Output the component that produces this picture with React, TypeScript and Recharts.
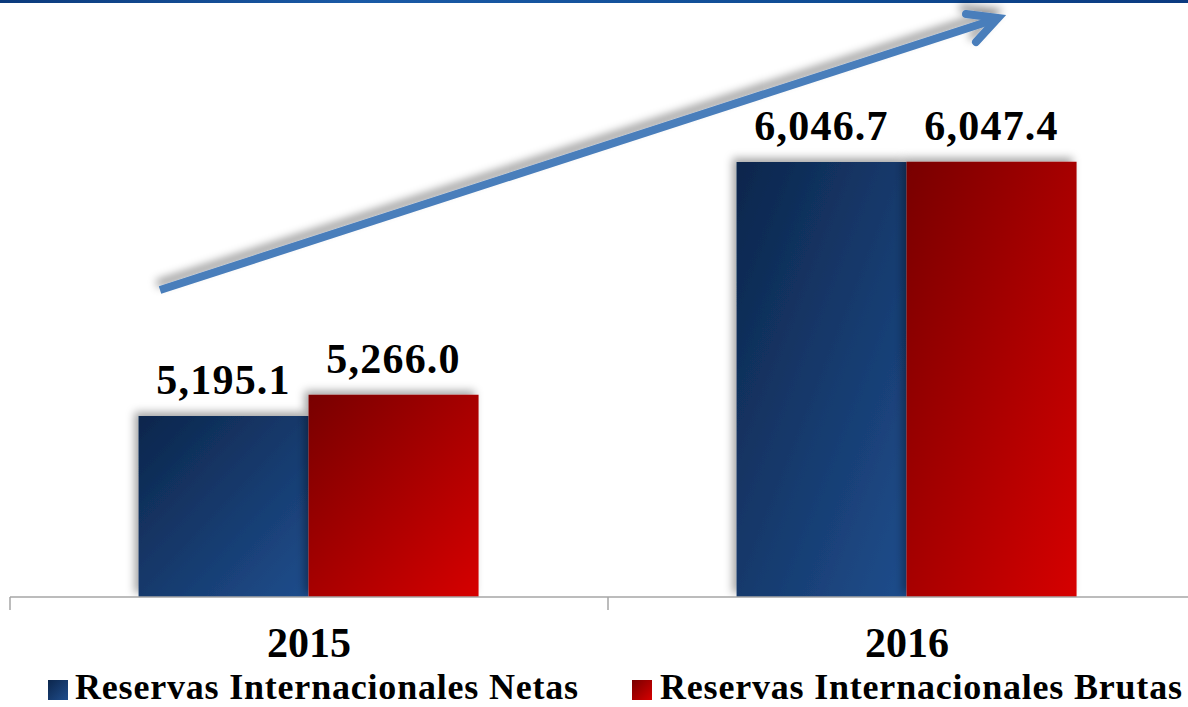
import { BarChart, Bar, XAxis, YAxis, LabelList, Customized } from 'recharts';

const years = ['2015', '2016'];
const netas = [5195.1, 6046.7];
const brutas = [5266.0, 6047.4];
const seriesNames = ['Reservas Internacionales Netas', 'Reservas Internacionales Brutas'];

const data = years.map((year, i) => ({ year, netas: netas[i], brutas: brutas[i] }));

const serif = 'Liberation Serif, Times New Roman, serif';

const fmt = (v: any) =>
  Number(v).toLocaleString('en-US', { minimumFractionDigits: 1, maximumFractionDigits: 1 });

function ValueLabel(props: any) {
  const { x, y, width, value } = props;
  return (
    <text
      x={x + width / 2}
      y={y - 22}
      textAnchor="middle"
      fontFamily={serif}
      fontWeight="bold"
      fontSize={42}
      fill="#000"
      style={{ letterSpacing: 1.2 }}
    >
      {fmt(value)}
    </text>
  );
}

function YearTick(props: any) {
  const { x, y, payload } = props;
  const half = 299;
  return (
    <g>
      <line x1={x - half} y1={y} x2={x - half} y2={y + 13} stroke="#a6a6a6" strokeWidth={1.5} />
      <text x={x} y={y + 60} textAnchor="middle" fontFamily={serif} fontWeight="bold" fontSize={42} fill="#000">
        {payload.value}
      </text>
    </g>
  );
}

function Arrow() {
  return (
    <g filter="url(#arrowShadow)" stroke="#4a7ebb" strokeWidth={8} fill="none">
      <line x1={160} y1={290} x2={996} y2={19} strokeLinecap="butt" />
      <polyline points="966,14 998,18 976,42" strokeLinecap="round" strokeLinejoin="miter" />
    </g>
  );
}

export default function App() {
  return (
    <div style={{ position: 'relative', width: 1188, height: 707, overflow: 'hidden', background: '#fff' }}>
      <style>{'body{margin:0}'}</style>
      <svg width={0} height={0} style={{ position: 'absolute' }}>
        <defs>
          <linearGradient id="gBlue" x1="0" y1="0" x2="1" y2="1">
            <stop offset="0%" stopColor="#0c264c" />
            <stop offset="100%" stopColor="#1f4d8c" />
          </linearGradient>
          <linearGradient id="gRed" x1="0" y1="0" x2="1" y2="1">
            <stop offset="0%" stopColor="#780000" />
            <stop offset="100%" stopColor="#d60000" />
          </linearGradient>
          <filter id="barShadow" x="-20%" y="-20%" width="140%" height="140%">
            <feDropShadow dx={-4} dy={-4} stdDeviation={4} floodColor="#000" floodOpacity={0.35} />
          </filter>
          <filter id="arrowShadow" x="-10%" y="-50%" width="120%" height="200%">
            <feDropShadow dx={-3} dy={-6} stdDeviation={4} floodColor="#000" floodOpacity={0.4} />
          </filter>
        </defs>
      </svg>
      <div
        style={{
          position: 'absolute',
          left: 0,
          top: 0,
          width: 1188,
          height: 3,
          background: 'linear-gradient(90deg, #0b3a7c, #1a5aa6 30%, #0f4c94 70%, #0b3a80)',
        }}
      />
      <BarChart
        width={1216}
        height={707}
        data={data}
        margin={{ top: 10, right: 10, left: 10, bottom: 40 }}
        barCategoryGap="21.5%"
        barGap={0}
      >
        <XAxis
          dataKey="year"
          height={70}
          axisLine={{ stroke: '#a6a6a6', strokeWidth: 1.5 }}
          tickLine={false}
          tickSize={0}
          tickMargin={0}
          tick={<YearTick />}
          interval={0}
        />
        <YAxis hide domain={[4588, 6556]} allowDataOverflow />
        <Bar dataKey="netas" fill="url(#gBlue)" filter="url(#barShadow)" isAnimationActive={false}>
          <LabelList dataKey="netas" content={<ValueLabel />} />
        </Bar>
        <Bar dataKey="brutas" fill="url(#gRed)" filter="url(#barShadow)" isAnimationActive={false}>
          <LabelList dataKey="brutas" content={<ValueLabel />} />
        </Bar>
        <Customized component={Arrow} />
      </BarChart>
      <div
        style={{
          position: 'absolute',
          top: 667,
          left: 0,
          width: 1188,
          height: 40,
          fontFamily: serif,
          fontWeight: 'bold',
          fontSize: 36,
          lineHeight: '40px',
          letterSpacing: 0.8,
          color: '#000',
          whiteSpace: 'nowrap',
        }}
      >
        <span style={{ position: 'absolute', left: 48, top: 13, width: 20, height: 20, background: 'linear-gradient(135deg, #0c264c, #1f4d8c)' }} />
        <span style={{ position: 'absolute', left: 75, top: 0 }}>{seriesNames[0]}</span>
        <span style={{ position: 'absolute', left: 632, top: 13, width: 20, height: 20, background: 'linear-gradient(135deg, #780000, #d60000)' }} />
        <span style={{ position: 'absolute', left: 660, top: 0 }}>{seriesNames[1]}</span>
      </div>
    </div>
  );
}
